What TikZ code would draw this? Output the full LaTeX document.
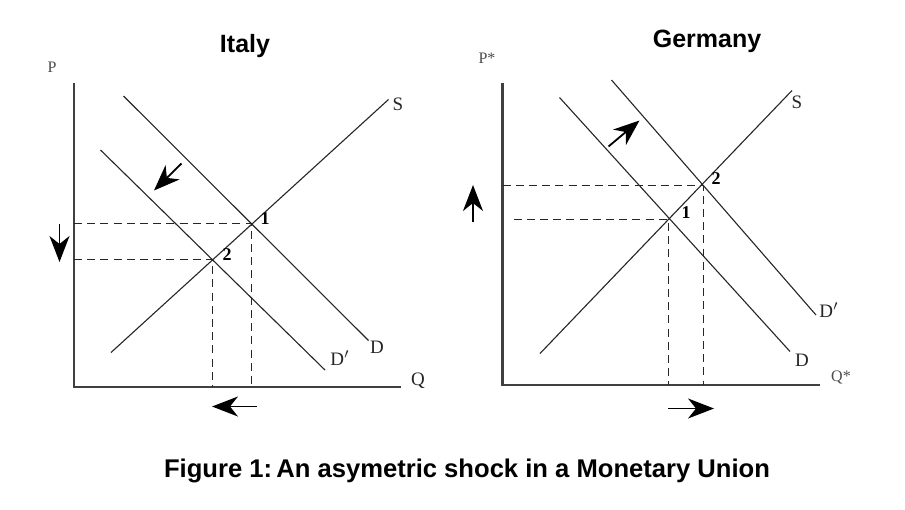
\documentclass[tikz,border=0pt]{standalone}
\usepackage{fontspec}
\setmainfont{Liberation Serif}
\newfontfamily\arialf{Liberation Sans}
\usetikzlibrary{arrows.meta}
\begin{document}
\begin{tikzpicture}[x=0.5pt,y=-0.5pt,
  axis/.style={line width=1.1pt, black!75},
  curve/.style={line width=0.55pt, black!85},
  guide/.style={line width=0.8pt, dash pattern=on 4pt off 2.6pt, black!85},
  movearrow/.style={line width=0.9pt, -{Stealth[length=13pt,width=10pt,inset=4pt]}},
  lbl/.style={font=\fontsize{9.5}{11}\selectfont, inner sep=0pt, black!85},
  axlbl/.style={font=\fontsize{8}{9}\selectfont, inner sep=0pt, black!70},
  num/.style={font=\bfseries\fontsize{9}{11}\selectfont, inner sep=0pt},
  ttl/.style={font=\arialf\bfseries\fontsize{12.5}{14}\selectfont, inner sep=0pt},
]
\useasboundingbox[fill=white] (0,0) rectangle (905,509);

% ---------- Italy ----------
\node[ttl] (ititle) at (245,46) {Italy};
\coordinate (iO) at (74,387);
\coordinate (iY) at (74,83);
\coordinate (iX) at (401,387);
\draw[axis] (iY) -- (iO) -- (iX);
\node[axlbl] (iP) at (52,67) {P};
\node[lbl] (iQ) at (418,381) {Q};

\coordinate (iS0) at (111,352.5);
\coordinate (iS1) at (388.5,99.5);
\coordinate (iD0) at (123.5,96);
\coordinate (iD1) at (368.5,340.5);
\coordinate (iDp0) at (100.5,150);
\coordinate (iDp1) at (325,370);
\draw[curve] (iS0) -- (iS1);
\draw[curve] (iD0) -- (iD1);
\draw[curve] (iDp0) -- (iDp1);
\node[lbl] (iSl) at (398,104) {S};
\node[lbl] (iDl) at (377,347) {D};
\node[lbl] (iDpl) at (340,358) {D\('\)};

\coordinate (i1) at (251.5,223.5);
\coordinate (i2) at (212.5,259.5);
\draw[guide] (iO |- i1) -- (i1) -- (i1 |- iO);
\draw[guide] (iO |- i2) -- (i2) -- (i2 |- iO);
\node[num] (i1l) at (265,219) {1};
\node[num] (i2l) at (227,255) {2};

\coordinate (iaS) at (181.5,163.5);
\coordinate (iaE) at (154,190.5);
\draw[movearrow] (iaS) -- (iaE);
\coordinate (ipS) at (59.5,224);
\coordinate (ipE) at (59.5,262);
\draw[movearrow] (ipS) -- (ipE);
\coordinate (iqS) at (257,406.5);
\coordinate (iqE) at (212,406.5);
\draw[movearrow] (iqS) -- (iqE);

% ---------- Germany ----------
\node[ttl] (gtitle) at (707,41) {Germany};
\coordinate (gO) at (502.5,385);
\coordinate (gY) at (502.5,83);
\coordinate (gX) at (820,385);
\draw[axis] (gY) -- (gO) -- (gX);
\node[axlbl] (gP) at (487,58) {P*};
\node[axlbl] (gQ) at (841,377) {Q*};

\coordinate (gS0) at (540,353.5);
\coordinate (gS1) at (792,90.5);
\coordinate (gD0) at (559.5,97.5);
\coordinate (gD1) at (790,351.5);
\coordinate (gDp0) at (611.5,80);
\coordinate (gDp1) at (816,315);
\draw[curve] (gS0) -- (gS1);
\draw[curve] (gD0) -- (gD1);
\draw[curve] (gDp0) -- (gDp1);
\node[lbl] (gSl) at (797,102) {S};
\node[lbl] (gDl) at (802,360) {D};
\node[lbl] (gDpl) at (829,310) {D\('\)};

\coordinate (g1) at (668.5,219.5);
\coordinate (g2) at (703.5,185.5);
\coordinate (g1s) at (513.5,219.5);
\draw[guide] (g1s) -- (g1) -- (g1 |- gO);
\draw[guide] (gO |- g2) -- (g2) -- (g2 |- gO);
\node[num] (g1l) at (686,213) {1};
\node[num] (g2l) at (716,179) {2};

\coordinate (gaS) at (608.5,146.5);
\coordinate (gaE) at (639.5,120.5);
\draw[movearrow] (gaS) -- (gaE);
\coordinate (gpS) at (473,222);
\coordinate (gpE) at (473,185);
\draw[movearrow] (gpS) -- (gpE);
\coordinate (gqS) at (668,408.5);
\coordinate (gqE) at (714,408.5);
\draw[movearrow] (gqS) -- (gqE);

% ---------- caption ----------
\node[font=\arialf\bfseries\fontsize{12.8}{14}\selectfont, inner sep=0pt] (cap) at (467,471)
  {Figure 1:\,An asymetric shock in a Monetary Union};
\end{tikzpicture}
\end{document}
